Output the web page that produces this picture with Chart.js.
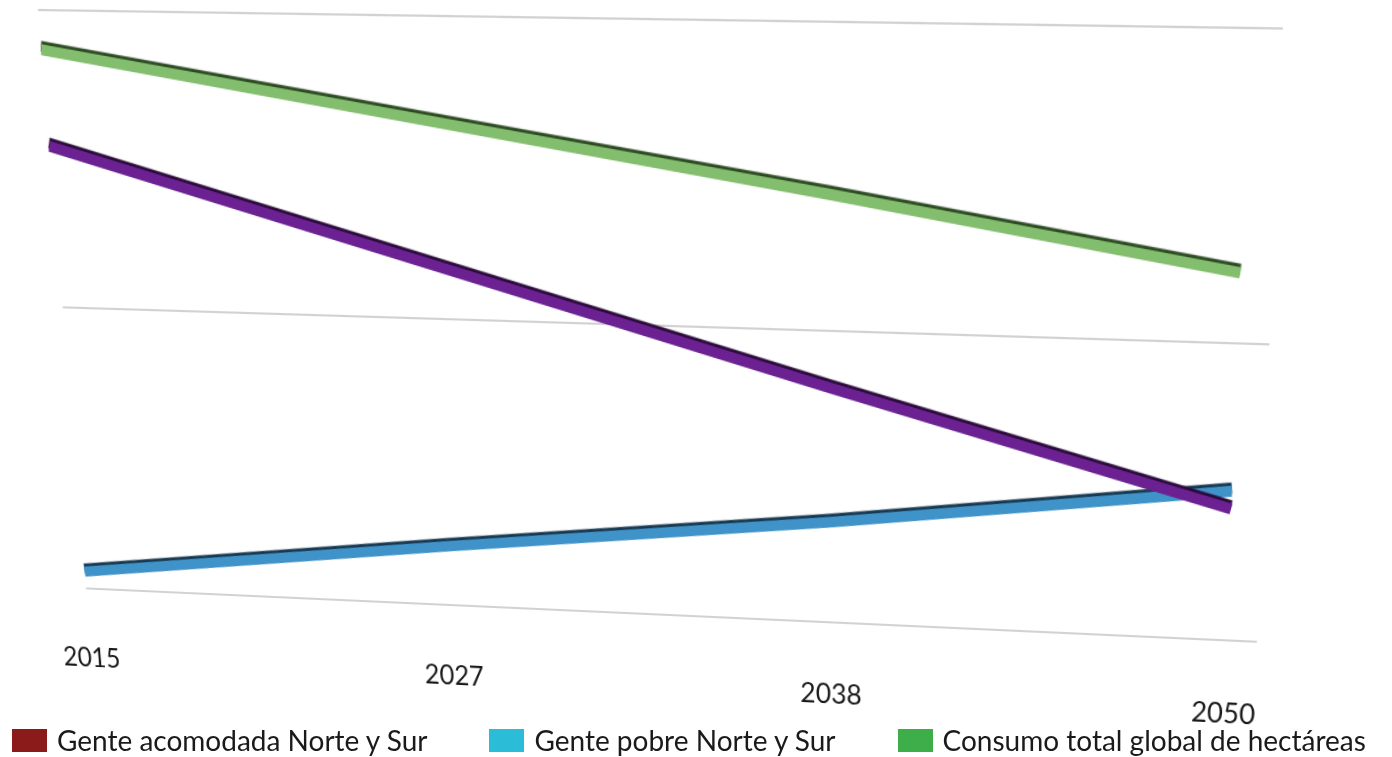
<!DOCTYPE html>
<html>
<head>
<meta charset="utf-8">
<script src="https://cdn.jsdelivr.net/npm/chart.js@4/dist/chart.umd.min.js"></script>
<style>
    html, body { margin: 0; padding: 0; background: #fff; overflow: hidden; width: 1392px; height: 757px; }
    #mycanvas { position: absolute; left: 0; top: 0; transform-origin: 0 0; }
    #legend { position: absolute; left: 12px; top: 723px; display: flex; gap: 62px; font-family: Lato, sans-serif; font-size: 28px; color: #1a1a1a; white-space: nowrap; }
    #legend .item { display: flex; align-items: center; }
    #legend .box { width: 35px; height: 23px; margin-right: 10px; }
</style>
</head>
<body>
<canvas id="mycanvas" width="1392" height="757"></canvas>
<div id="legend"></div>
<script>
var years = ['2015', '2027', '2038', '2050'];
var seriesNames = ['Gente acomodada Norte y Sur', 'Gente pobre Norte y Sur', 'Consumo total global de hectáreas'];
var acomodada = [1.55, 1.18, 0.81, 0.45];
var pobre = [0.06, 0.21, 0.35, 0.51];
var consumo = [1.87, 1.66, 1.45, 1.23];
var lineColors = ['#6b2192', '#3f93c8', '#83bd6e'];
var edgeColors = ['#2a0a3a', '#173850', '#2c4a22'];
var legendColors = ['#8b1a1a', '#2bbcd8', '#3dae4a'];

// corners of the plot area in the picture (TL, TR, BR, BL)
var quad = [[38, 10], [1250, 28], [1226, 640], [86, 588]];

function homography(src, dst) {
    var A = [], b = [];
    for (var i = 0; i < 4; i++) {
        var x = src[i][0], y = src[i][1], X = dst[i][0], Y = dst[i][1];
        A.push([x, y, 1, 0, 0, 0, -x * X, -y * X]); b.push(X);
        A.push([0, 0, 0, x, y, 1, -x * Y, -y * Y]); b.push(Y);
    }
    var n = 8;
    for (var c = 0; c < n; c++) {
        var p = c;
        for (var r = c + 1; r < n; r++) if (Math.abs(A[r][c]) > Math.abs(A[p][c])) p = r;
        var t = A[c]; A[c] = A[p]; A[p] = t;
        var tb = b[c]; b[c] = b[p]; b[p] = tb;
        for (var r = c + 1; r < n; r++) {
            var f = A[r][c] / A[c][c];
            for (var k = c; k < n; k++) A[r][k] -= f * A[c][k];
            b[r] -= f * b[c];
        }
    }
    var h = new Array(n);
    for (var i = n - 1; i >= 0; i--) {
        var s = b[i];
        for (var k = i + 1; k < n; k++) s -= A[i][k] * h[k];
        h[i] = s / A[i][i];
    }
    return h;
}

// dark upper edge to fake the tube look
var tubePlugin = {
    id: 'tube',
    beforeDatasetDraw: function (chart, args) {
        var ctx = chart.ctx;
        ctx.save();
        ctx.shadowColor = edgeColors[args.index];
        ctx.shadowOffsetY = -3;
        ctx.shadowBlur = 1;
    },
    afterDatasetDraw: function (chart) {
        chart.ctx.restore();
    }
};

var chartdata = {
    labels: years,
    datasets: [acomodada, pobre, consumo].map(function (vals, i) {
        return {
            label: seriesNames[i],
            data: vals,
            borderColor: lineColors[i],
            backgroundColor: legendColors[i],
            borderWidth: 10,
            borderCapStyle: 'butt',
            pointRadius: 0,
            tension: 0
        };
    })
};

var ctx = document.getElementById('mycanvas');
var lineGraph = new Chart(ctx, {
    type: 'line',
    data: chartdata,
    plugins: [tubePlugin],
    options: {
        responsive: false,
        animation: false,
        layout: { padding: { left: 60, right: 110, top: 20, bottom: 60 } },
        plugins: { legend: { display: false }, tooltip: { enabled: false } },
        scales: {
            x: {
                offset: false,
                grid: { display: false },
                border: { display: false },
                ticks: { padding: 46, color: '#1a1a1a', font: { family: 'Lato', size: 27 } }
            },
            y: {
                position: 'right',
                min: 0,
                max: 2,
                ticks: { display: false, stepSize: 1 },
                grid: { color: '#d2d2d2', lineWidth: 2, drawTicks: true, tickLength: 30 },
                border: { display: false }
            }
        }
    }
});

var xs = lineGraph.scales.x, ys = lineGraph.scales.y;
var L = xs.getPixelForValue(0), R = xs.getPixelForValue(years.length - 1);
var T = ys.getPixelForValue(2), B = ys.getPixelForValue(0);
var h = homography([[L, T], [R, T], [R, B], [L, B]], quad);
ctx.style.transform = 'matrix3d(' + [h[0], h[3], 0, h[6], h[1], h[4], 0, h[7], 0, 0, 1, 0, h[2], h[5], 0, 1].join(',') + ')';

var legend = document.getElementById('legend');
chartdata.datasets.forEach(function (ds, i) {
    var item = document.createElement('div');
    item.className = 'item';
    item.innerHTML = '<span class="box" style="background:' + legendColors[i] + '"></span><span>' + ds.label + '</span>';
    legend.appendChild(item);
});
</script>
</body>
</html>
